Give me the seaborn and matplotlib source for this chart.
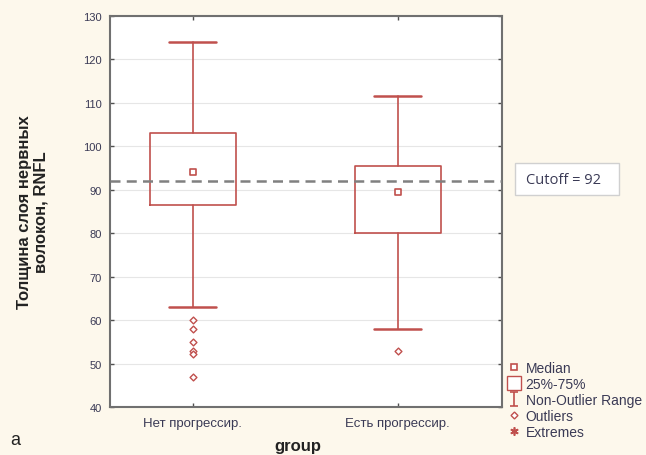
import numpy as np
import pandas as pd
import matplotlib
matplotlib.use("Agg")
import matplotlib.pyplot as plt
from matplotlib.lines import Line2D
from matplotlib.path import Path
from matplotlib.patches import Rectangle
import seaborn as sns

# ---- data ----
groups = ["Нет прогрессир.", "Есть прогрессир."]
medians = [94.0, 89.6]
q1 = [86.5, 80.0]
q3 = [103.0, 95.5]
whisk_lo = [63.0, 58.0]
whisk_hi = [124.0, 111.6]
outliers_g1 = [60.0, 58.0, 55.0, 53.0, 52.2, 47.0]
outliers_g2 = [53.0]
cutoff = 92
yticks = [40, 50, 60, 70, 80, 90, 100, 110, 120, 130]

RED = "#c0504d"
TXT = "#3a3a55"
BG = "#fdf8ec"

sns.set_theme(style="white")
plt.rcParams["font.family"] = ["Liberation Sans", "DejaVu Sans"]

fig = plt.figure(figsize=(6.46, 4.56), dpi=100, facecolor=BG)
ax = fig.add_axes([110/646, 1-408/456, (502-110)/646, (408-17)/456])
ax.set_facecolor("white")

positions = list(range(len(groups)))
stats = []
for i, g in enumerate(groups):
    stats.append(dict(label=g, med=medians[i], q1=q1[i], q3=q3[i],
                      whislo=whisk_lo[i], whishi=whisk_hi[i], fliers=[]))
ax.bxp(stats, positions=positions, widths=0.42, capwidths=0.23,
       showfliers=False,
       boxprops=dict(color=RED, linewidth=1.2),
       whiskerprops=dict(color=RED, linewidth=1.2),
       capprops=dict(color=RED, linewidth=1.8),
       medianprops=dict(linewidth=0))

# medians as small squares
med_df = pd.DataFrame({"x": positions, "y": medians})
sns.scatterplot(data=med_df, x="x", y="y", marker="s", s=22,
                facecolor="white", edgecolor=RED, linewidth=1.2, ax=ax, zorder=5)

# outliers
out_df = pd.DataFrame({
    "x": [0]*len(outliers_g1) + [1]*len(outliers_g2),
    "y": outliers_g1 + outliers_g2})
sns.scatterplot(data=out_df, x="x", y="y", marker="D", s=12,
                facecolor="white", edgecolor=RED, linewidth=1.0, ax=ax, zorder=5)

ax.axhline(cutoff, color="#808080", linestyle=(0, (4, 2.5)), linewidth=1.8, zorder=4)

ax.set_ylim(40, 130)
ax.set_xlim(-0.405, 1.51)
ax.set_yticks(yticks)
ax.set_xticks(positions)
ax.set_xticklabels(groups)
ax.yaxis.grid(True, color="#e6e6e6", linewidth=0.8)
ax.set_axisbelow(True)
for s in ax.spines.values():
    s.set_color("#707070")
    s.set_linewidth(1.5)
ax.tick_params(axis="both", direction="in", length=3, width=1, color="#505050",
               labelcolor=TXT, labelsize=8, top=True, right=True, bottom=True, left=True)
ax.tick_params(axis="y", pad=6)
ax.tick_params(axis="x", pad=7, labelsize=9.5)

ax.set_xlabel("group", fontsize=12, fontweight="bold", color="#222222")
ax.xaxis.set_label_coords(0.478, -(447-408)/391)
ax.xaxis.label.set_va("center")
ax.set_ylabel("Толщина слоя нервных\nволокон, RNFL", fontsize=12, fontweight="bold",
              color="#222222")
ax.yaxis.set_label_coords((49-110)/392, 0.5)

# cutoff note box
fig.patches.append(Rectangle((515/646, 1-196/456), 104/646, 32/456,
                             transform=fig.transFigure, facecolor="white",
                             edgecolor="#d0d0d0", linewidth=1, zorder=1))
fig.text(564/646, 1-180/456, "Cutoff = 92", ha="center", va="center", fontsize=10.5,
         color=TXT, family=["Open Sans", "DejaVu Sans"], zorder=2)

fig.text(10/646, 1-441/456, "a", fontsize=13, color="#222222", va="center")

# legend
ibeam = Path([(0, -1), (0, 1), (-0.6, 1), (0.6, 1), (-0.6, -1), (0.6, -1)],
             [Path.MOVETO, Path.LINETO, Path.MOVETO, Path.LINETO, Path.MOVETO, Path.LINETO])
handles = [
    Line2D([], [], marker="s", ls="", markersize=4.5, mfc="white", mec=RED, mew=1.2),
    Line2D([], [], marker="s", ls="", markersize=10, mfc="white", mec=RED, mew=1.0),
    Line2D([], [], marker=ibeam, ls="", markersize=10, mfc="none", mec=RED, mew=1.2),
    Line2D([], [], marker="D", ls="", markersize=3.5, mfc="white", mec=RED, mew=1.0),
    Line2D([], [], marker=(6, 2, 0), ls="", markersize=6, mec=RED, mew=1.2),
]
labels = ["Median", "25%-75%", "Non-Outlier Range", "Outliers", "Extremes"]
fig.legend(handles, labels, loc="upper left", bbox_to_anchor=(509/646, 1-362/456),
           frameon=False, fontsize=10, labelcolor=TXT, handlelength=0.7,
           handletextpad=0.5, labelspacing=0.15, borderpad=0, borderaxespad=0)

fig.savefig("out.png", dpi=100, facecolor=BG)
